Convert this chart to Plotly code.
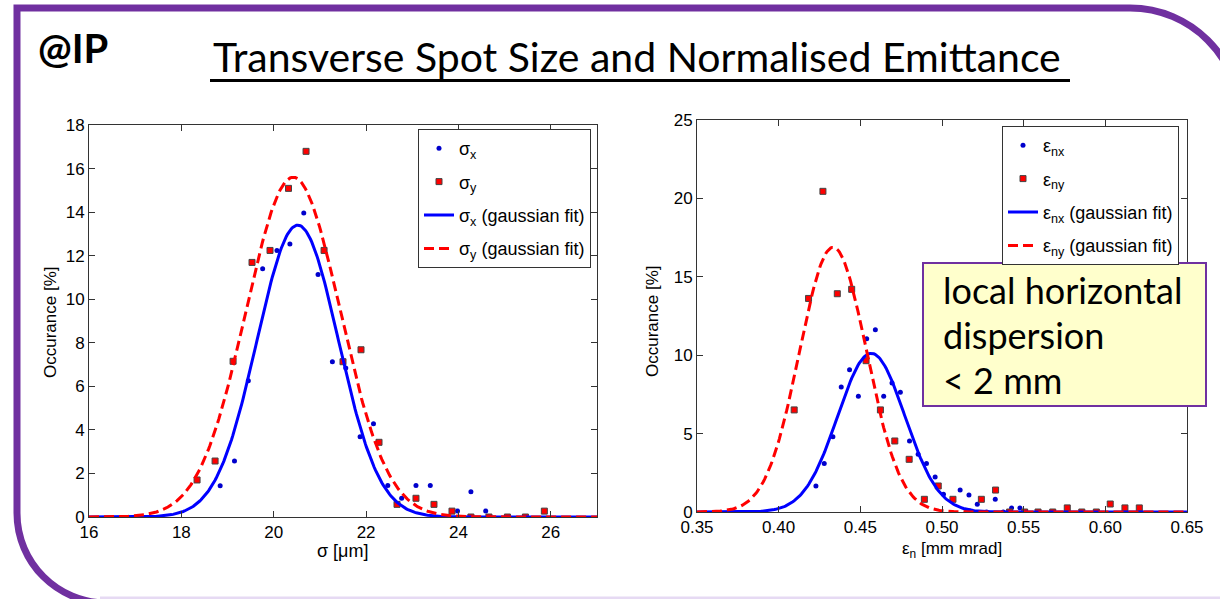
import numpy as np
import plotly.graph_objects as go

W, H = 1220, 599

# ---------------- data ----------------
sigx_pos = [18.84, 19.15, 19.45, 19.76, 20.07, 20.35, 20.65, 20.96, 21.27, 21.56, 21.87,
            22.16, 22.47, 22.77, 23.08, 23.39, 23.69, 23.98, 24.27, 24.59]
sigx_occ = [1.44, 2.57, 6.26, 11.4, 12.24, 12.53, 13.96, 11.13, 7.13, 6.84, 3.69,
            4.28, 1.45, 0.86, 1.45, 1.45, 0.0, 0.27, 1.16, 0.27]
sigy_pos = [18.34, 18.73, 19.12, 19.53, 19.92, 20.32, 20.70, 21.09, 21.50, 21.89, 22.28,
            22.67, 23.08, 23.47, 23.86, 24.27, 24.66, 25.06, 25.45, 25.86]
sigy_occ = [1.70, 2.57, 7.15, 11.69, 12.24, 15.09, 16.79, 12.24, 7.13, 7.68, 3.43,
            0.58, 0.86, 0.58, 0.27, 0.0, 0.0, 0.0, 0.0, 0.27]

enx_pos = [0.4228, 0.4279, 0.4332, 0.4383, 0.4434, 0.4488, 0.4539, 0.4592, 0.4643, 0.4694,
           0.4745, 0.4801, 0.4854, 0.4905, 0.4958, 0.5009, 0.5111, 0.5165, 0.5216, 0.5273,
           0.5326, 0.5375, 0.5426, 0.5477]
enx_occ = [1.66, 3.10, 4.80, 7.97, 9.08, 7.38, 11.05, 11.63, 7.38, 8.23,
           7.63, 4.53, 3.68, 3.10, 2.23, 1.13, 1.40, 1.08, 0.49, 0.0,
           0.81, 0.0, 0.26, 0.26]
eny_pos = [0.4095, 0.4183, 0.4271, 0.4359, 0.4447, 0.4535, 0.4623, 0.4711, 0.4799, 0.4892,
           0.4977, 0.5067, 0.5158, 0.5241, 0.5328, 0.5414, 0.5506, 0.5588, 0.5678, 0.5767,
           0.5856, 0.5945, 0.6030, 0.6120, 0.6208]
eny_occ = [6.51, 13.62, 20.45, 13.92, 14.20, 9.65, 6.51, 4.53, 3.36, 0.81,
           1.66, 0.81, 0.0, 0.81, 1.40, 0.0, 0.0, 0.0, 0.0, 0.26,
           0.0, 0.0, 0.51, 0.26, 0.26]

# gaussian fit parameters (amplitude, mean, sigma)
fit_sigx = (13.4, 20.52, 0.88)
fit_sigy = (15.6, 20.42, 1.02)
fit_enx = (10.12, 0.4567, 0.0205)
fit_eny = (16.88, 0.4333, 0.0205)

sig_xticks = [16, 18, 20, 22, 24, 26]
sig_yticks = [0, 2, 4, 6, 8, 10, 12, 14, 16, 18]
eps_xticks = [0.35, 0.40, 0.45, 0.50, 0.55, 0.60, 0.65]
eps_yticks = [0, 5, 10, 15, 20, 25]


def gauss(x, p):
    a, m, s = p
    return a * np.exp(-(x - m) ** 2 / (2 * s ** 2))


xs_sig = np.linspace(16, 27, 400)
xs_eps = np.linspace(0.35, 0.65, 400)

BLUE = "#0000FF"
RED = "#FF0000"
FONT = "Liberation Sans, Arial, sans-serif"

fig = go.Figure()

blue_marker = dict(color="#0000CC", size=5, symbol="circle")
red_marker = dict(color=RED, size=6, symbol="square", line=dict(color="#444444", width=1))
DASH = "10px,5px"

# left panel
fig.add_trace(go.Scatter(x=sigx_pos, y=sigx_occ, mode="markers", marker=blue_marker,
                         name="σ<sub>x</sub>", xaxis="x", yaxis="y", legend="legend",
                         legendgroup="a1"))
fig.add_trace(go.Scatter(x=sigy_pos, y=sigy_occ, mode="markers", marker=red_marker,
                         name="σ<sub>y</sub>", xaxis="x", yaxis="y", legend="legend",
                         legendgroup="a2"))
fig.add_trace(go.Scatter(x=xs_sig, y=gauss(xs_sig, fit_sigx), mode="lines",
                         line=dict(color=BLUE, width=3),
                         name="σ<sub>x</sub> (gaussian fit)", xaxis="x", yaxis="y", legend="legend",
                         legendgroup="a3"))
fig.add_trace(go.Scatter(x=xs_sig, y=gauss(xs_sig, fit_sigy), mode="lines",
                         line=dict(color=RED, width=3, dash=DASH),
                         name="σ<sub>y</sub> (gaussian fit)", xaxis="x", yaxis="y", legend="legend",
                         legendgroup="a4"))

# right panel
fig.add_trace(go.Scatter(x=enx_pos, y=enx_occ, mode="markers", marker=blue_marker,
                         name="ε<sub>nx</sub>", xaxis="x2", yaxis="y2", legend="legend2",
                         legendgroup="b1"))
fig.add_trace(go.Scatter(x=eny_pos, y=eny_occ, mode="markers", marker=red_marker,
                         name="ε<sub>ny</sub>", xaxis="x2", yaxis="y2", legend="legend2",
                         legendgroup="b2"))
fig.add_trace(go.Scatter(x=xs_eps, y=gauss(xs_eps, fit_enx), mode="lines",
                         line=dict(color=BLUE, width=3),
                         name="ε<sub>nx</sub> (gaussian fit)", xaxis="x2", yaxis="y2", legend="legend2",
                         legendgroup="b3"))
fig.add_trace(go.Scatter(x=xs_eps, y=gauss(xs_eps, fit_eny), mode="lines",
                         line=dict(color=RED, width=3, dash=DASH),
                         name="ε<sub>ny</sub> (gaussian fit)", xaxis="x2", yaxis="y2", legend="legend2",
                         legendgroup="b4"))


def px(x, y):
    return x / W, 1 - y / H


axis_common = dict(showgrid=False, zeroline=False, showline=True, mirror="ticks",
                   linecolor="#333333", linewidth=1, ticks="inside", ticklen=6,
                   tickcolor="#333333", tickfont=dict(family=FONT, size=17, color="black"),
                   automargin=False)

legend_common = dict(xanchor="left", yanchor="top", bgcolor="white", bordercolor="#333333",
                     borderwidth=1, font=dict(family=FONT, size=18, color="black"),
                     tracegroupgap=7)

fig.update_layout(
    width=W, height=H, margin=dict(l=0, r=0, t=0, b=0, pad=0, autoexpand=False),
    paper_bgcolor="white", plot_bgcolor="white",
    xaxis=dict(domain=[89 / W, 597 / W], range=[16, 27], tickvals=sig_xticks, anchor="y",
               **axis_common),
    yaxis=dict(domain=[1 - 517 / H, 1 - 125 / H], range=[0, 18], tickvals=sig_yticks, anchor="x",
               **axis_common),
    xaxis2=dict(domain=[697 / W, 1187 / W], range=[0.35, 0.65], tickvals=eps_xticks,
                ticktext=[f"{v:.2f}" for v in eps_xticks], anchor="y2", **axis_common),
    yaxis2=dict(domain=[1 - 512 / H, 1 - 120 / H], range=[0, 25], tickvals=eps_yticks, anchor="x2",
                **axis_common),
    legend=dict(x=418 / W, y=1 - 129 / H, **legend_common),
    legend2=dict(x=1002 / W, y=1 - 126 / H, **legend_common),
    showlegend=True,
)

# ---------------- slide decorations ----------------
def path_from(points_cmds):
    out = []
    for cmd, pts in points_cmds:
        coords = " ".join(f"{px(x, y)[0]:.5f},{px(x, y)[1]:.5f}" for x, y in pts)
        out.append(f"{cmd} {coords}")
    return " ".join(out)

k = 0.5523
r1 = 90
r2 = 110
frame = path_from([
    ("M", [(1300, 603)]),
    ("L", [(17 + r1, 603)]),
    ("C", [(17 + r1 - k * r1, 603), (17, 603 - r1 + k * r1), (17, 603 - r1)]),
    ("L", [(17, 8)]),
    ("L", [(1240 - r2, 8)]),
    ("C", [(1240 - r2 + k * r2, 8), (1240, 8 + r2 - k * r2), (1240, 8 + r2)]),
    ("L", [(1240, 700)]),
])
fig.add_shape(type="path", path=frame, xref="paper", yref="paper",
              line=dict(color="#7030A0", width=7), layer="above")
fig.add_shape(type="line", xref="paper", yref="paper",
              x0=100 / W, x1=1.0, y0=1 - 598 / H, y1=1 - 598 / H,
              line=dict(color="#E6DAF3", width=3), layer="above")

# title underline
fig.add_shape(type="line", xref="paper", yref="paper",
              x0=210 / W, x1=1070 / W, y0=1 - 80.5 / H, y1=1 - 80.5 / H,
              line=dict(color="black", width=3), layer="above")

# yellow text box
fig.add_shape(type="rect", xref="paper", yref="paper",
              x0=923 / W, x1=1206 / W, y0=1 - 406 / H, y1=1 - 263 / H,
              fillcolor="#FFFFCC", line=dict(color="#7030A0", width=2), layer="above")

annotations = [
    dict(text="<b>@IP</b>", x=36 / W, y=1 - 48 / H, xanchor="left", yanchor="middle",
         font=dict(family="Lato", size=40, color="black")),
    dict(text="Transverse Spot Size and Normalised Emittance", x=211 / W, y=1 - 57 / H,
         xanchor="left", yanchor="middle", font=dict(family="Lato", size=41, color="black")),
    dict(text="local horizontal", x=941 / W, y=1 - 290 / H, xanchor="left", yanchor="middle",
         font=dict(family="Lato", size=36, color="black")),
    dict(text="dispersion", x=941 / W, y=1 - 335 / H, xanchor="left", yanchor="middle",
         font=dict(family="Lato", size=36, color="black")),
    dict(text="< 2 mm", x=941 / W, y=1 - 380 / H, xanchor="left", yanchor="middle",
         font=dict(family="Lato", size=36, color="black")),
    dict(text="Occurance [%]", x=50 / W, y=1 - 322 / H, textangle=-90,
         xanchor="center", yanchor="middle", font=dict(family=FONT, size=17, color="black")),
    dict(text="Occurance [%]", x=652 / W, y=1 - 321 / H, textangle=-90,
         xanchor="center", yanchor="middle", font=dict(family=FONT, size=17, color="black")),
    dict(text="σ [μm]", x=342 / W, y=1 - 551 / H, xanchor="center", yanchor="middle",
         font=dict(family=FONT, size=18, color="black")),
    dict(text="ε<sub>n</sub> [mm mrad]", x=952 / W, y=1 - 550 / H, xanchor="center", yanchor="middle",
         font=dict(family=FONT, size=17, color="black")),
]
for a in annotations:
    a.update(xref="paper", yref="paper", showarrow=False)
fig.update_layout(annotations=annotations)

fig.write_html("out.html")
